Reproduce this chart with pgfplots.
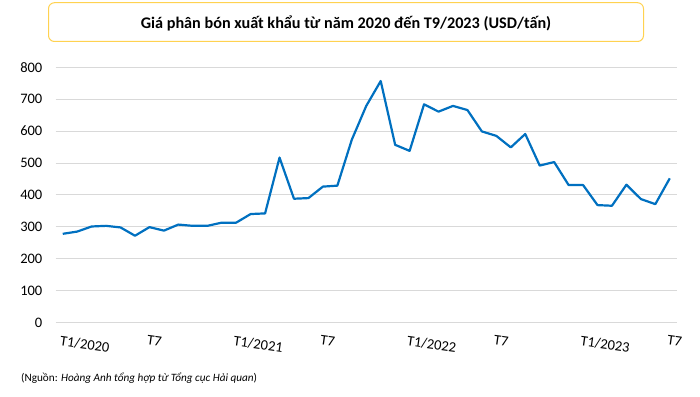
\documentclass[border=0pt]{standalone}
\usepackage{pgfplots}
\pgfplotsset{compat=1.18}
\usepackage{fontspec}
\setmainfont{Carlito}
\definecolor{lineblue}{RGB}{0,112,192}
\definecolor{gridgray}{RGB}{217,217,217}
\definecolor{boxyellow}{RGB}{255,210,80}
\begin{document}
\begin{tikzpicture}[x=1pt,y=1pt]
\useasboundingbox (0,0) rectangle (700,396);
\draw[boxyellow, line width=1pt, rounded corners=6pt, fill=white] (48.5,354.5) rectangle (643.5,393.3);
\node[font=\fontsize{16.2}{19}\selectfont\bfseries, anchor=base, inner sep=0pt] at (346,367) {Giá phân bón xuất khẩu từ năm 2020 đến T9/2023 (USD/tấn)};
\begin{axis}[at={(55.5pt,73.5pt)}, anchor=south west, scale only axis,
  width=621.5pt, height=255.2pt,
  xmin=-0.5, xmax=42.5, ymin=0, ymax=800,
  ytick={0,100,...,800}, xtick={0,6,...,42},
  xticklabels={T1/2020,T7,T1/2021,T7,T1/2022,T7,T1/2023,T7},
  axis line style={draw=none}, major tick length=0pt,
  ymajorgrids, grid style={gridgray, line width=1pt},
  tick label style={font=\fontsize{14.5}{17}\selectfont},
  /pgf/number format/assume math mode=true,
  yticklabel style={anchor=east, inner sep=0pt, xshift=-13pt},
  xticklabel style={rotate=-8, anchor=north west, inner sep=0pt, yshift=-13pt},
  clip=false]
\addplot[lineblue, line width=2.2pt, mark=none, line join=round] coordinates {
(0,278)(1,285)(2,301)(3,303)(4,298)(5,272)(6,299)(7,288)(8,307)(9,303)
(10,303)(11,313)(12,313)(13,340)(14,342)(15,517)(16,388)(17,390)(18,426)(19,429)
(20,573)(21,679)(22,757)(23,557)(24,538)(25,684)(26,661)(27,679)(28,666)(29,599)
(30,585)(31,549)(32,591)(33,492)(34,503)(35,431)(36,431)(37,368)(38,366)(39,432)
(40,387)(41,371)(42,452)};
\end{axis}
\node[anchor=base west, inner sep=0pt, font=\fontsize{11.2}{13}\selectfont] at (21,15) {(Nguồn: \textit{Hoàng Anh tổng hợp từ Tổng cục Hải quan})};
\end{tikzpicture}
\end{document}
